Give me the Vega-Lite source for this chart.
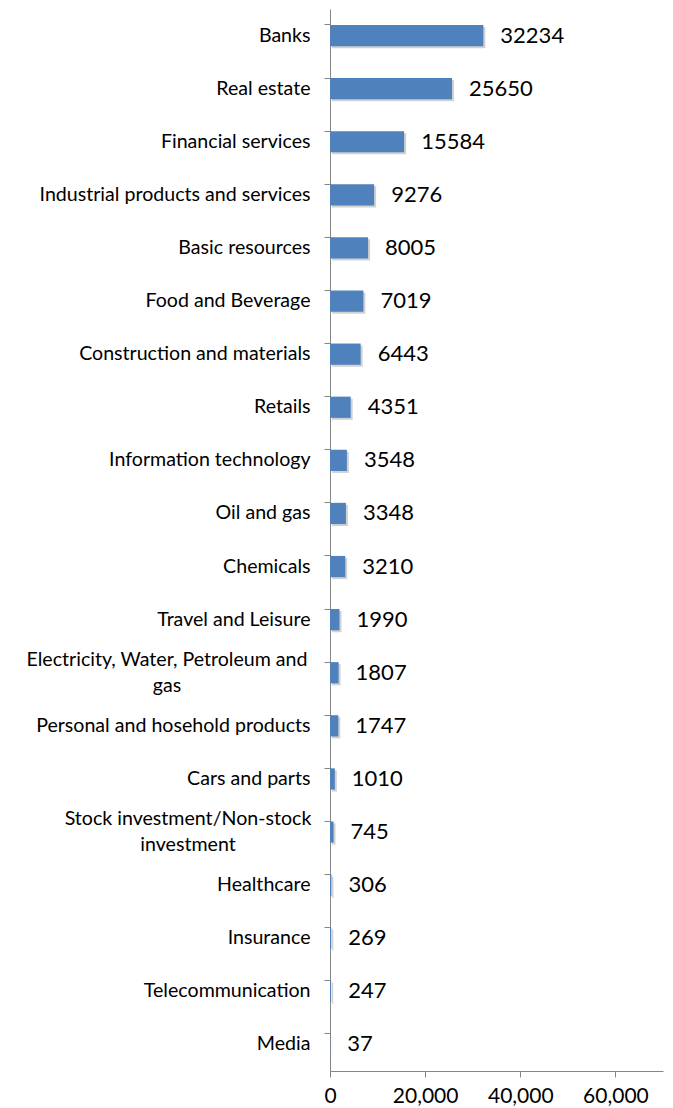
{
  "$schema": "https://vega.github.io/schema/vega-lite/v6.json",
  "autosize": {"type": "none"},
  "width": 333,
  "height": 1062,
  "padding": {"left": 330, "top": 9, "right": 10, "bottom": 37},
  "background": "white",
  "config": {
    "view": {"stroke": null},
    "font": "Lato",
    "axis": {"grid": false, "domainColor": "#868686", "tickColor": "#868686", "labelColor": "#000000", "labelFont": "Lato"}
  },
  "data": {
    "values": [
      {"sector": "Banks", "value": 32234},
      {"sector": "Real estate", "value": 25650},
      {"sector": "Financial services", "value": 15584},
      {"sector": "Industrial products and services", "value": 9276},
      {"sector": "Basic resources", "value": 8005},
      {"sector": "Food and Beverage", "value": 7019},
      {"sector": "Construction and materials", "value": 6443},
      {"sector": "Retails", "value": 4351},
      {"sector": "Information technology", "value": 3548},
      {"sector": "Oil and gas", "value": 3348},
      {"sector": "Chemicals", "value": 3210},
      {"sector": "Travel and Leisure", "value": 1990},
      {"sector": "Electricity, Water, Petroleum and gas", "value": 1807},
      {"sector": "Personal and hosehold products", "value": 1747},
      {"sector": "Cars and parts", "value": 1010},
      {"sector": "Stock investment/Non-stock investment", "value": 745},
      {"sector": "Healthcare", "value": 306},
      {"sector": "Insurance", "value": 269},
      {"sector": "Telecommunication", "value": 247},
      {"sector": "Media", "value": 37}
    ]
  },
  "encoding": {
    "y": {
      "field": "sector",
      "type": "nominal",
      "sort": null,
      "title": null,
      "scale": {"paddingInner": 0.6, "paddingOuter": 0.3},
      "axis": {
        "bandPosition": 0,
        "tickSize": 6,
        "labelFontSize": 19.6,
        "labelLineHeight": 26,
        "labelLimit": 400,
        "labelExpr": "datum.value == 'Electricity, Water, Petroleum and gas' ? ['Electricity, Water, Petroleum and', 'gas'] : datum.value == 'Stock investment/Non-stock investment' ? ['Stock investment/Non-stock', 'investment'] : datum.value",
        "labelAlign": {
          "condition": {"test": "datum.value == 'Electricity, Water, Petroleum and gas' || datum.value == 'Stock investment/Non-stock investment'", "value": "center"},
          "value": "right"
        },
        "labelPadding": {
          "condition": [
            {"test": "datum.value == 'Electricity, Water, Petroleum and gas'", "value": 157.5},
            {"test": "datum.value == 'Stock investment/Non-stock investment'", "value": 136.5}
          ],
          "value": 14
        },
        "labelOffset": {
          "condition": {"test": "datum.value == 'Electricity, Water, Petroleum and gas' || datum.value == 'Stock investment/Non-stock investment'", "value": -13},
          "value": 0
        }
      }
    },
    "x": {
      "field": "value",
      "type": "quantitative",
      "title": null,
      "scale": {"domain": [0, 70000], "nice": false},
      "axis": {"values": [0, 20000, 40000, 60000], "format": ",.0f", "tickSize": 6, "labelPadding": 8, "labelFontSize": 21, "labelFlush": false}
    }
  },
  "layer": [
    {
      "mark": {"type": "bar", "color": "#000000", "opacity": 0.18, "xOffset": 2, "x2Offset": 2, "yOffset": 2, "y2Offset": 2}
    },
    {
      "mark": {"type": "bar", "color": "#4F81BD"}
    },
    {
      "mark": {"type": "text", "align": "left", "baseline": "middle", "dx": 17, "fontSize": 22, "color": "#000000"},
      "encoding": {"text": {"field": "value", "type": "quantitative", "format": "d"}}
    }
  ]
}
